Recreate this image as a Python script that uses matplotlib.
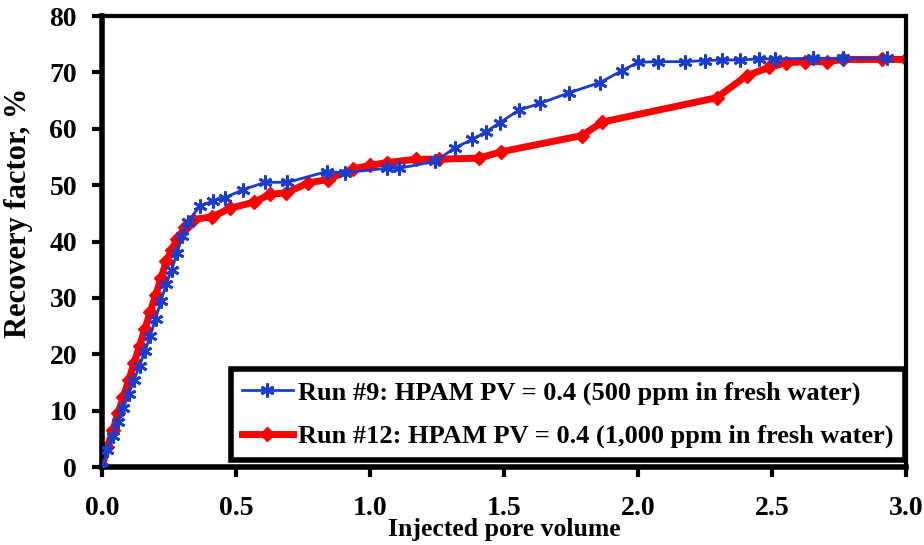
import matplotlib.pyplot as plt

plt.rcParams['font.family'] = ['Liberation Serif', 'DejaVu Serif']
plt.rcParams['font.weight'] = 'bold'

# Run #9: HPAM PV = 0.4 (500 ppm in fresh water)
pv_run9 = [0.0, 0.02, 0.04, 0.06, 0.08, 0.10, 0.12, 0.14, 0.16, 0.18, 0.20,
           0.22, 0.24, 0.26, 0.28, 0.30, 0.32, 0.366, 0.415, 0.459, 0.527,
           0.608, 0.692, 0.838, 0.907, 1.062, 1.109, 1.243, 1.316, 1.381,
           1.431, 1.485, 1.555, 1.634, 1.744, 1.858, 1.94, 2.0, 2.076, 2.175,
           2.25, 2.312, 2.38, 2.452, 2.511, 2.654, 2.766, 2.928]
rf_run9 = [0.0, 3.0, 5.5, 8.0, 10.5, 13.0, 15.5, 18.0, 20.5, 23.3, 26.3,
           29.5, 32.5, 35.0, 38.0, 41.0, 43.5, 46.3, 47.2, 47.8, 49.2,
           50.5, 50.5, 52.4, 52.2, 53.0, 53.0, 54.2, 56.6, 58.1,
           59.4, 61.1, 63.3, 64.5, 66.4, 68.2, 70.3, 71.8, 71.9, 71.9,
           72.1, 72.2, 72.2, 72.4, 72.4, 72.5, 72.5, 72.5]

# Run #12: HPAM PV = 0.4 (1,000 ppm in fresh water)
pv_run12 = [0.0, 0.02, 0.04, 0.06, 0.08, 0.10, 0.12, 0.14, 0.16, 0.18, 0.20,
            0.22, 0.24, 0.26, 0.28, 0.31, 0.34, 0.412, 0.478, 0.568, 0.627,
            0.686, 0.77, 0.842, 0.938, 1.0, 1.062, 1.17, 1.258, 1.408, 1.487,
            1.791, 1.867, 2.293, 2.405, 2.49, 2.552, 2.623, 2.704, 2.766,
            2.909, 3.0]
rf_run12 = [0.0, 3.5, 6.5, 9.5, 12.5, 15.5, 18.5, 21.5, 24.5, 27.5, 30.5,
            33.5, 36.5, 38.5, 40.5, 42.5, 43.9, 44.4, 45.9, 47.0, 48.4,
            48.6, 50.4, 51.0, 52.9, 53.5, 54.0, 54.6, 54.6, 54.8, 55.9,
            58.8, 61.2, 65.5, 69.4, 70.9, 71.7, 71.9, 71.9, 72.3,
            72.3, 72.3]

x_ticks = [0.0, 0.5, 1.0, 1.5, 2.0, 2.5, 3.0]
y_ticks = [0, 10, 20, 30, 40, 50, 60, 70, 80]

fig = plt.figure(figsize=(9.24, 5.45), dpi=100)
ax = fig.add_axes([0.1104, 0.1431, 0.8701, 0.8275])

ax.plot(pv_run9, rf_run9, color="#1a3ccc", linewidth=2, marker=(6, 2, 0),
        markersize=10, markeredgewidth=2, zorder=3,
        label="Run #9: HPAM PV = 0.4 (500 ppm in fresh water)")
ax.plot(pv_run12, rf_run12, color="#ff0000", linewidth=5, marker="D",
        markersize=7, zorder=2,
        label="Run #12: HPAM PV = 0.4 (1,000 ppm in fresh water)")

ax.set_xlim(0, 3.0)
ax.set_ylim(0, 80)
ax.set_xticks(x_ticks)
ax.set_yticks(y_ticks)
ax.set_xticklabels(["%.1f" % t for t in x_ticks])
ax.tick_params(axis="both", labelsize=20, width=3, length=7, direction="out")
ax.tick_params(axis="x", pad=14)
ax.tick_params(axis="y", pad=11)

for side in ["left", "bottom"]:
    ax.spines[side].set_linewidth(4)
for side in ["top", "right"]:
    ax.spines[side].set_linewidth(3)

ax.set_xlabel("Injected pore volume", fontsize=18.5, fontweight="bold", va="top")
ax.xaxis.set_label_coords(0.5, -0.113)
ax.set_ylabel("Recovery factor, %", fontsize=22, fontweight="bold")
ax.yaxis.set_label_coords(-0.086, 0.563)

leg = ax.legend(loc="lower right", bbox_to_anchor=(0.999, 0.015), fontsize=19,
                frameon=True, fancybox=False, handlelength=1.9,
                handletextpad=0.2, borderpad=0.45, labelspacing=0.75,
                borderaxespad=0)
leg.get_frame().set_edgecolor("black")
leg.get_frame().set_linewidth(4)
leg.get_frame().set_alpha(1)

fig.savefig("out.png", dpi=100)
